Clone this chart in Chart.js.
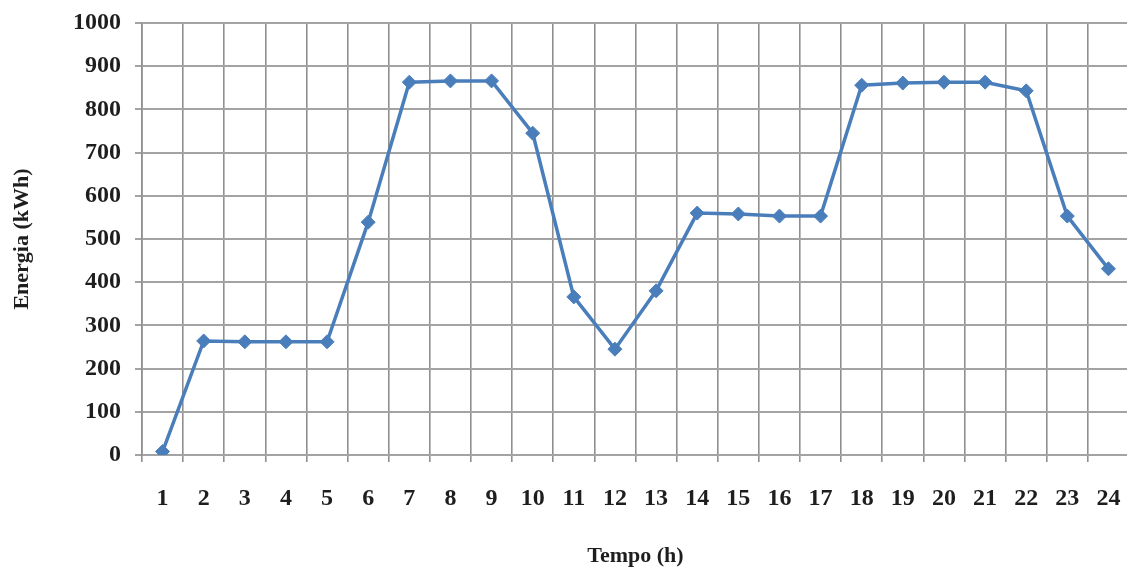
<!DOCTYPE html>
<html>
<head>
<meta charset="utf-8">
<script src="https://cdn.jsdelivr.net/npm/chart.js@4.4.0/dist/chart.umd.min.js"></script>
<style>
    html, body { margin: 0; padding: 0; background: #ffffff; overflow: hidden; }
    /* the original plot runs past the right edge of the picture */
    #wrap { width: 1137px; height: 575px; position: relative; }
</style>
</head>
<body>
<div id="wrap"><canvas id="energyChart"></canvas></div>
<script>
// Hourly energy
const hours = ['1', '2', '3', '4', '5', '6', '7', '8', '9', '10', '11', '12',
    '13', '14', '15', '16', '17', '18', '19', '20', '21', '22', '23', '24'];
const energy = [8, 264, 262, 262, 262, 539, 863, 866, 866, 745, 366, 245,
    380, 560, 558, 553, 553, 856, 861, 863, 863, 843, 553, 431];

const yMin = 0;
const yMax = 1000;
const yStep = 100;

const lineColor = '#4a7ebb';
const gridColor = '#a3a3a3';
const textColor = '#1e1e1e';
const fontFamily = "'Liberation Serif', 'Times New Roman', serif";

const ctx = document.getElementById('energyChart');

new Chart(ctx, {
    type: 'line',
    data: {
        labels: hours,
        datasets: [{
            label: 'Energia',
            data: energy,
            borderColor: lineColor,
            backgroundColor: lineColor,
            borderWidth: 3.5,
            tension: 0,
            pointStyle: 'rectRot',
            pointRadius: 7,
            pointBackgroundColor: lineColor,
            pointBorderColor: lineColor,
            pointBorderWidth: 1
        }]
    },
    options: {
        responsive: true,
        maintainAspectRatio: false,
        animation: false,
        layout: {
            padding: { top: 23, right: 0, bottom: 0, left: 0 }
        },
        plugins: {
            legend: { display: false },
            tooltip: { enabled: false }
        },
        scales: {
            x: {
                offset: true,
                grid: {
                    offset: true,
                    color: '#8f8f8f',
                    lineWidth: 1.6,
                    tickLength: 7
                },
                border: { color: gridColor, width: 2 },
                ticks: {
                    color: textColor,
                    padding: 22,
                    maxRotation: 0,
                    autoSkip: false,
                    font: { family: fontFamily, size: 24, weight: 'bold' }
                },
                title: {
                    display: true,
                    text: 'Tempo (h)',
                    color: textColor,
                    padding: { top: 0, bottom: 5 },
                    font: { family: fontFamily, size: 22, weight: 'bold' }
                },
                afterFit: (scale) => {
                    scale.height = 120;
                    scale.paddingLeft = 0;
                    scale.paddingRight = 0;
                }
            },
            y: {
                min: yMin,
                max: yMax,
                grid: {
                    color: gridColor,
                    lineWidth: 2,
                    tickLength: 7
                },
                border: { color: '#8f8f8f', width: 1.6 },
                ticks: {
                    stepSize: yStep,
                    color: textColor,
                    padding: 14,
                    callback: (value) => String(value),
                    font: { family: fontFamily, size: 24, weight: 'bold' }
                },
                title: {
                    display: true,
                    text: 'Energia (kWh)',
                    color: textColor,
                    padding: { top: 9, bottom: 0 },
                    font: { family: fontFamily, size: 22, weight: 'bold' }
                },
                afterFit: (scale) => {
                    scale.width = 142;
                    scale.paddingTop = 0;
                    scale.paddingBottom = 0;
                }
            }
        }
    }
});
</script>
</body>
</html>
